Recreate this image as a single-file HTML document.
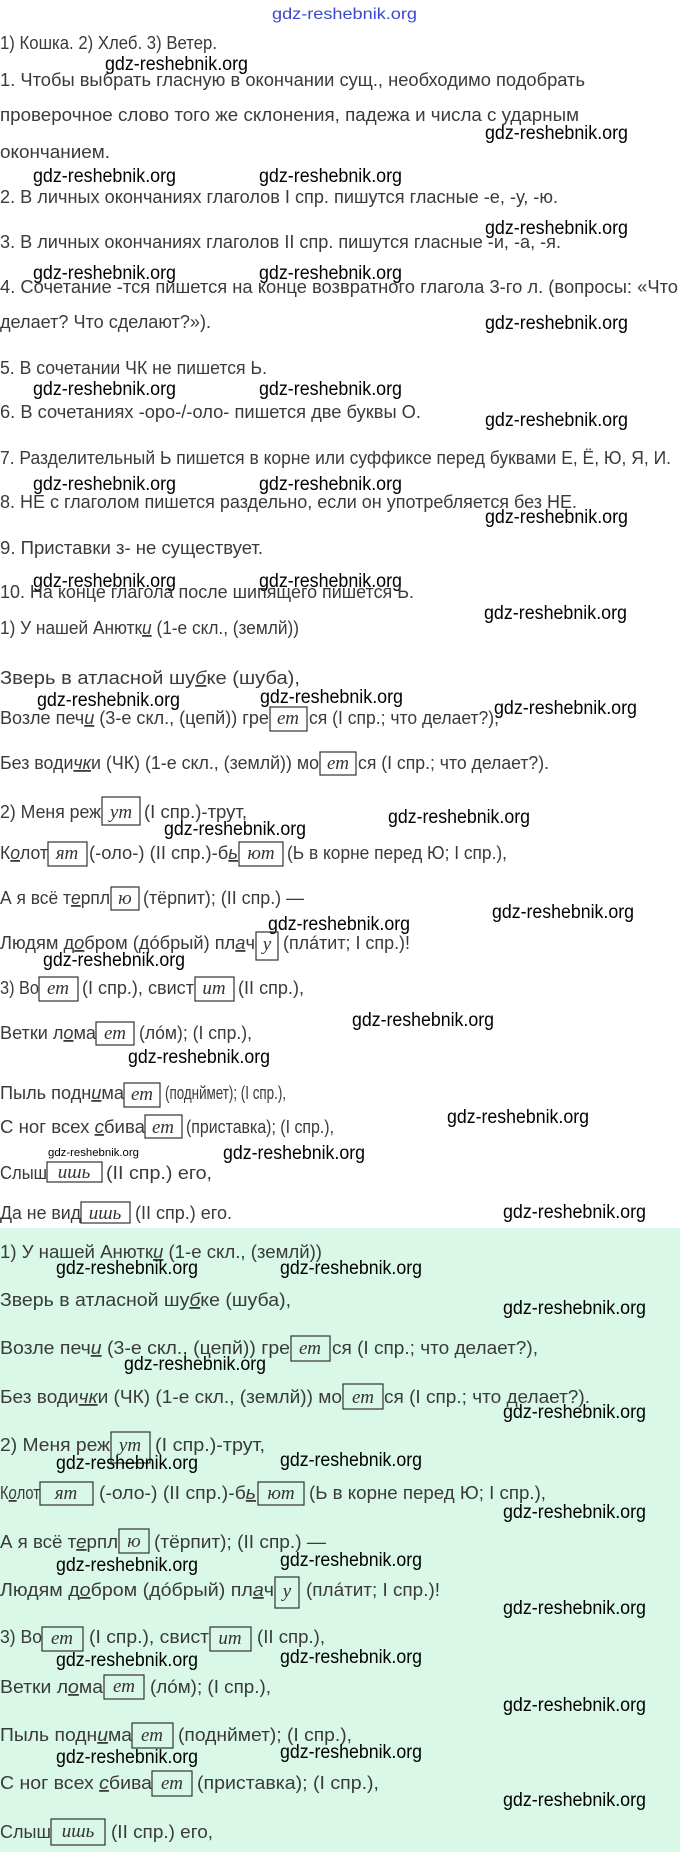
<!DOCTYPE html>
<html><head><meta charset="utf-8"><style>
html,body{margin:0;padding:0;background:#fff}
svg{display:block}
.t{font-family:"Liberation Sans",sans-serif;font-size:18px;fill:#3a3a3a}
.w{font-family:"Liberation Sans",sans-serif;font-size:19px;fill:#000}
.s{font-family:"Liberation Sans",sans-serif;font-size:11px;fill:#000}
.b{font-family:"Liberation Serif",serif;font-style:italic;font-size:19px;fill:#333;text-anchor:middle}
.u{font-style:italic;text-decoration:underline}
rect.x{fill:none;stroke:#333;stroke-width:1.2}
</style></head><body>
<svg width="680" height="1852" viewBox="0 0 680 1852" xmlns="http://www.w3.org/2000/svg">
<rect x="0" y="1228" width="680" height="624" fill="#d9f8e8"/>
<g lengthAdjust="spacingAndGlyphs">
<text x="272" y="19" style="font-family:'Liberation Sans',sans-serif;font-size:16px;fill:#3a48d0" textLength="145" lengthAdjust="spacingAndGlyphs">gdz-reshebnik.org</text>

<text class="t" x="0" y="49" textLength="217" lengthAdjust="spacingAndGlyphs">1) Кошка. 2) Хлеб. 3) Ветер.</text>
<text class="w" x="105" y="70" textLength="143" lengthAdjust="spacingAndGlyphs">gdz-reshebnik.org</text>
<text class="t" x="0" y="86" textLength="585" lengthAdjust="spacingAndGlyphs">1. Чтобы выбрать гласную в окончании сущ., необходимо подобрать</text>
<text class="t" x="0" y="121" textLength="579" lengthAdjust="spacingAndGlyphs">проверочное слово того же склонения, падежа и числа с ударным</text>
<text class="w" x="485" y="139" textLength="143" lengthAdjust="spacingAndGlyphs">gdz-reshebnik.org</text>
<text class="t" x="0" y="158" textLength="110" lengthAdjust="spacingAndGlyphs">окончанием.</text>
<text class="w" x="33" y="182" textLength="143" lengthAdjust="spacingAndGlyphs">gdz-reshebnik.org</text>
<text class="w" x="259" y="182" textLength="143" lengthAdjust="spacingAndGlyphs">gdz-reshebnik.org</text>
<text class="t" x="0" y="203" textLength="558" lengthAdjust="spacingAndGlyphs">2. В личных окончаниях глаголов I спр. пишутся гласные -е, -у, -ю.</text>
<text class="w" x="485" y="234" textLength="143" lengthAdjust="spacingAndGlyphs">gdz-reshebnik.org</text>
<text class="t" x="0" y="248" textLength="561" lengthAdjust="spacingAndGlyphs">3. В личных окончаниях глаголов II спр. пишутся гласные -и, -а, -я.</text>
<text class="w" x="33" y="279" textLength="143" lengthAdjust="spacingAndGlyphs">gdz-reshebnik.org</text>
<text class="w" x="259" y="279" textLength="143" lengthAdjust="spacingAndGlyphs">gdz-reshebnik.org</text>
<text class="t" x="0" y="293" textLength="678" lengthAdjust="spacingAndGlyphs">4. Сочетание -тся пишется на конце возвратного глагола 3-го л. (вопросы: «Что</text>
<text class="t" x="0" y="328" textLength="211" lengthAdjust="spacingAndGlyphs">делает? Что сделают?»).</text>
<text class="w" x="485" y="329" textLength="143" lengthAdjust="spacingAndGlyphs">gdz-reshebnik.org</text>
<text class="t" x="0" y="374" textLength="267" lengthAdjust="spacingAndGlyphs">5. В сочетании ЧК не пишется Ь.</text>
<text class="w" x="33" y="395" textLength="143" lengthAdjust="spacingAndGlyphs">gdz-reshebnik.org</text>
<text class="w" x="259" y="395" textLength="143" lengthAdjust="spacingAndGlyphs">gdz-reshebnik.org</text>
<text class="t" x="0" y="418" textLength="421" lengthAdjust="spacingAndGlyphs">6. В сочетаниях -оро-/-оло- пишется две буквы О.</text>
<text class="w" x="485" y="426" textLength="143" lengthAdjust="spacingAndGlyphs">gdz-reshebnik.org</text>
<text class="t" x="0" y="464" textLength="671" lengthAdjust="spacingAndGlyphs">7. Разделительный Ь пишется в корне или суффиксе перед буквами Е, Ё, Ю, Я, И.</text>
<text class="w" x="33" y="490" textLength="143" lengthAdjust="spacingAndGlyphs">gdz-reshebnik.org</text>
<text class="w" x="259" y="490" textLength="143" lengthAdjust="spacingAndGlyphs">gdz-reshebnik.org</text>
<text class="t" x="0" y="508" textLength="577" lengthAdjust="spacingAndGlyphs">8. НЕ с глаголом пишется раздельно, если он употребляется без НЕ.</text>
<text class="w" x="485" y="523" textLength="143" lengthAdjust="spacingAndGlyphs">gdz-reshebnik.org</text>
<text class="t" x="0" y="554" textLength="263" lengthAdjust="spacingAndGlyphs">9. Приставки з- не существует.</text>
<text class="w" x="33" y="587" textLength="143" lengthAdjust="spacingAndGlyphs">gdz-reshebnik.org</text>
<text class="w" x="259" y="587" textLength="143" lengthAdjust="spacingAndGlyphs">gdz-reshebnik.org</text>
<text class="t" x="0" y="598" textLength="414" lengthAdjust="spacingAndGlyphs">10. На конце глагола после шипящего пишется Ь.</text>

<text class="w" x="484" y="619" textLength="143" lengthAdjust="spacingAndGlyphs">gdz-reshebnik.org</text>
<text class="t" x="0" y="634" textLength="299" lengthAdjust="spacingAndGlyphs">1) У нашей Анютк<tspan class="u">и</tspan> (1-е скл., (землй))</text>
<text class="t" x="0" y="684" textLength="300" lengthAdjust="spacingAndGlyphs">Зверь в атласной шу<tspan class="u">б</tspan>ке (шуба),</text>
<text class="w" x="37" y="706" textLength="143" lengthAdjust="spacingAndGlyphs">gdz-reshebnik.org</text>
<text class="w" x="260" y="703" textLength="143" lengthAdjust="spacingAndGlyphs">gdz-reshebnik.org</text>
<text class="w" x="494" y="714" textLength="143" lengthAdjust="spacingAndGlyphs">gdz-reshebnik.org</text>
<text class="t" x="0" y="724" textLength="269" lengthAdjust="spacingAndGlyphs">Возле печ<tspan class="u">и</tspan> (3-е скл., (цепй)) гре</text>
<rect class="x" x="270" y="707" width="37" height="24"/><text class="b" x="288" y="724">ет</text>
<text class="t" x="309" y="724" textLength="190" lengthAdjust="spacingAndGlyphs">ся (I спр.; что делает?),</text>
<text class="t" x="0" y="769" textLength="319" lengthAdjust="spacingAndGlyphs">Без води<tspan class="u">чк</tspan>и (ЧК) (1-е скл., (землй)) мо</text>
<rect class="x" x="320" y="752" width="36" height="23"/><text class="b" x="338" y="769">ет</text>
<text class="t" x="358" y="769" textLength="191" lengthAdjust="spacingAndGlyphs">ся (I спр.; что делает?).</text>

<text class="t" x="0" y="818" textLength="101" lengthAdjust="spacingAndGlyphs">2) Меня реж</text>
<rect class="x" x="102" y="797" width="38" height="28"/><text class="b" x="121" y="818">ут</text>
<text class="t" x="144" y="818" textLength="103" lengthAdjust="spacingAndGlyphs">(I спр.)-трут,</text>
<text class="w" x="388" y="823" textLength="142" lengthAdjust="spacingAndGlyphs">gdz-reshebnik.org</text>
<text class="w" x="164" y="835" textLength="142" lengthAdjust="spacingAndGlyphs">gdz-reshebnik.org</text>
<text class="t" x="0" y="859" textLength="48" lengthAdjust="spacingAndGlyphs">К<tspan class="u">о</tspan>лот</text>
<rect class="x" x="48" y="842" width="39" height="24"/><text class="b" x="67" y="859">ят</text>
<text class="t" x="89" y="859" textLength="149" lengthAdjust="spacingAndGlyphs">(-оло-) (II спр.)-б<tspan class="u">ь</tspan></text>
<rect class="x" x="239" y="842" width="44" height="24"/><text class="b" x="261" y="859">ют</text>
<text class="t" x="287" y="859" textLength="220" lengthAdjust="spacingAndGlyphs">(Ь в корне перед Ю; I спр.),</text>
<text class="t" x="0" y="904" textLength="110" lengthAdjust="spacingAndGlyphs">А я всё т<tspan class="u">е</tspan>рпл</text>
<rect class="x" x="111" y="887" width="28" height="23"/><text class="b" x="125" y="904">ю</text>
<text class="t" x="143" y="904" textLength="161" lengthAdjust="spacingAndGlyphs">(тёрпит); (II спр.) —</text>
<text class="w" x="492" y="918" textLength="142" lengthAdjust="spacingAndGlyphs">gdz-reshebnik.org</text>
<text class="w" x="268" y="930" textLength="142" lengthAdjust="spacingAndGlyphs">gdz-reshebnik.org</text>
<text class="t" x="0" y="949" textLength="255" lengthAdjust="spacingAndGlyphs">Людям д<tspan class="u">о</tspan>бром (дóбрый) пл<tspan class="u">а</tspan>ч</text>
<rect class="x" x="256" y="932" width="22" height="28"/><text class="b" x="267" y="950">у</text>
<text class="t" x="283" y="949" textLength="127" lengthAdjust="spacingAndGlyphs">(плáтит; I спр.)!</text>
<text class="w" x="43" y="966" textLength="142" lengthAdjust="spacingAndGlyphs">gdz-reshebnik.org</text>
<text class="t" x="0" y="994" textLength="39" lengthAdjust="spacingAndGlyphs">3) Во</text>
<rect class="x" x="39" y="977" width="39" height="24"/><text class="b" x="58" y="994">ет</text>
<text class="t" x="82" y="994" textLength="112" lengthAdjust="spacingAndGlyphs">(I спр.), свист</text>
<rect class="x" x="195" y="977" width="39" height="24"/><text class="b" x="214" y="994">ит</text>
<text class="t" x="238" y="994" textLength="66" lengthAdjust="spacingAndGlyphs">(II спр.),</text>
<text class="w" x="352" y="1026" textLength="142" lengthAdjust="spacingAndGlyphs">gdz-reshebnik.org</text>
<text class="t" x="0" y="1039" textLength="96" lengthAdjust="spacingAndGlyphs">Ветки л<tspan class="u">о</tspan>ма</text>
<rect class="x" x="96" y="1022" width="38" height="23"/><text class="b" x="115" y="1039">ет</text>
<text class="t" x="139" y="1039" textLength="113" lengthAdjust="spacingAndGlyphs">(лóм); (I спр.),</text>
<text class="w" x="128" y="1063" textLength="142" lengthAdjust="spacingAndGlyphs">gdz-reshebnik.org</text>
<text class="t" x="0" y="1099" textLength="124" lengthAdjust="spacingAndGlyphs">Пыль подн<tspan class="u">и</tspan>ма</text>
<rect class="x" x="124" y="1083" width="36" height="24"/><text class="b" x="142" y="1100">ет</text>
<text class="t" x="165" y="1099" textLength="121" lengthAdjust="spacingAndGlyphs">(поднймет); (I спр.),</text>
<text class="w" x="447" y="1123" textLength="142" lengthAdjust="spacingAndGlyphs">gdz-reshebnik.org</text>
<text class="t" x="0" y="1133" textLength="145" lengthAdjust="spacingAndGlyphs">С ног всех <tspan class="u">с</tspan>бива</text>
<rect class="x" x="145" y="1115" width="37" height="23"/><text class="b" x="163" y="1133">ет</text>
<text class="t" x="186" y="1133" textLength="148" lengthAdjust="spacingAndGlyphs">(приставка); (I спр.),</text>
<text class="s" x="48" y="1156" textLength="91" lengthAdjust="spacingAndGlyphs">gdz-reshebnik.org</text>
<text class="w" x="223" y="1159" textLength="142" lengthAdjust="spacingAndGlyphs">gdz-reshebnik.org</text>
<text class="t" x="0" y="1179" textLength="47" lengthAdjust="spacingAndGlyphs">Слыш</text>
<rect class="x" x="47" y="1162" width="55" height="20"/><text class="b" x="74" y="1178">ишь</text>
<text class="t" x="106" y="1179" textLength="106" lengthAdjust="spacingAndGlyphs">(II спр.) его,</text>
<text class="t" x="0" y="1219" textLength="81" lengthAdjust="spacingAndGlyphs">Да не вид</text>
<rect class="x" x="81" y="1202" width="49" height="21"/><text class="b" x="105" y="1219">ишь</text>
<text class="t" x="135" y="1219" textLength="97" lengthAdjust="spacingAndGlyphs">(II спр.) его.</text>
<text class="w" x="503" y="1218" textLength="143" lengthAdjust="spacingAndGlyphs">gdz-reshebnik.org</text>

<!-- green section -->
<text class="t" x="0" y="1258" textLength="322" lengthAdjust="spacingAndGlyphs">1) У нашей Анютк<tspan class="u">и</tspan> (1-е скл., (землй))</text>
<text class="w" x="56" y="1274" textLength="142" lengthAdjust="spacingAndGlyphs">gdz-reshebnik.org</text>
<text class="w" x="280" y="1274" textLength="142" lengthAdjust="spacingAndGlyphs">gdz-reshebnik.org</text>
<text class="t" x="0" y="1306" textLength="291" lengthAdjust="spacingAndGlyphs">Зверь в атласной шу<tspan class="u">б</tspan>ке (шуба),</text>
<text class="w" x="503" y="1314" textLength="143" lengthAdjust="spacingAndGlyphs">gdz-reshebnik.org</text>
<text class="t" x="0" y="1354" textLength="290" lengthAdjust="spacingAndGlyphs">Возле печ<tspan class="u">и</tspan> (3-е скл., (цепй)) гре</text>
<rect class="x" x="291" y="1336" width="39" height="25"/><text class="b" x="310" y="1354">ет</text>
<text class="t" x="332" y="1354" textLength="206" lengthAdjust="spacingAndGlyphs">ся (I спр.; что делает?),</text>
<text class="w" x="124" y="1370" textLength="142" lengthAdjust="spacingAndGlyphs">gdz-reshebnik.org</text>
<text class="t" x="0" y="1403" textLength="342" lengthAdjust="spacingAndGlyphs">Без води<tspan class="u">чк</tspan>и (ЧК) (1-е скл., (землй)) мо</text>
<rect class="x" x="343" y="1384" width="40" height="25"/><text class="b" x="363" y="1403">ет</text>
<text class="t" x="384" y="1403" textLength="206" lengthAdjust="spacingAndGlyphs">ся (I спр.; что делает?).</text>
<text class="w" x="503" y="1418" textLength="143" lengthAdjust="spacingAndGlyphs">gdz-reshebnik.org</text>
<text class="t" x="0" y="1451" textLength="110" lengthAdjust="spacingAndGlyphs">2) Меня реж</text>
<rect class="x" x="111" y="1432" width="39" height="31"/><text class="b" x="130" y="1451">ут</text>
<text class="t" x="155" y="1451" textLength="110" lengthAdjust="spacingAndGlyphs">(I спр.)-трут,</text>
<text class="w" x="56" y="1469" textLength="142" lengthAdjust="spacingAndGlyphs">gdz-reshebnik.org</text>
<text class="w" x="280" y="1466" textLength="142" lengthAdjust="spacingAndGlyphs">gdz-reshebnik.org</text>
<text class="t" x="0" y="1499" textLength="40" lengthAdjust="spacingAndGlyphs">К<tspan class="u">о</tspan>лот</text>
<rect class="x" x="40" y="1482" width="53" height="23"/><text class="b" x="66" y="1499">ят</text>
<text class="t" x="99" y="1499" textLength="157" lengthAdjust="spacingAndGlyphs">(-оло-) (II спр.)-б<tspan class="u">ь</tspan></text>
<rect class="x" x="258" y="1482" width="46" height="23"/><text class="b" x="281" y="1499">ют</text>
<text class="t" x="309" y="1499" textLength="237" lengthAdjust="spacingAndGlyphs">(Ь в корне перед Ю; I спр.),</text>
<text class="w" x="503" y="1518" textLength="143" lengthAdjust="spacingAndGlyphs">gdz-reshebnik.org</text>
<text class="t" x="0" y="1548" textLength="118" lengthAdjust="spacingAndGlyphs">А я всё т<tspan class="u">е</tspan>рпл</text>
<rect class="x" x="119" y="1529" width="30" height="24"/><text class="b" x="134" y="1547">ю</text>
<text class="t" x="154" y="1548" textLength="172" lengthAdjust="spacingAndGlyphs">(тёрпит); (II спр.) —</text>
<text class="w" x="56" y="1571" textLength="142" lengthAdjust="spacingAndGlyphs">gdz-reshebnik.org</text>
<text class="w" x="280" y="1566" textLength="142" lengthAdjust="spacingAndGlyphs">gdz-reshebnik.org</text>
<text class="t" x="0" y="1596" textLength="274" lengthAdjust="spacingAndGlyphs">Людям д<tspan class="u">о</tspan>бром (дóбрый) пл<tspan class="u">а</tspan>ч</text>
<rect class="x" x="275" y="1577" width="24" height="31"/><text class="b" x="287" y="1597">у</text>
<text class="t" x="306" y="1596" textLength="134" lengthAdjust="spacingAndGlyphs">(плáтит; I спр.)!</text>
<text class="w" x="503" y="1614" textLength="143" lengthAdjust="spacingAndGlyphs">gdz-reshebnik.org</text>
<text class="t" x="0" y="1643" textLength="42" lengthAdjust="spacingAndGlyphs">3) Во</text>
<rect class="x" x="42" y="1627" width="41" height="24"/><text class="b" x="62" y="1644">ет</text>
<text class="t" x="89" y="1643" textLength="120" lengthAdjust="spacingAndGlyphs">(I спр.), свист</text>
<rect class="x" x="210" y="1627" width="41" height="24"/><text class="b" x="230" y="1644">ит</text>
<text class="t" x="257" y="1643" textLength="68" lengthAdjust="spacingAndGlyphs">(II спр.),</text>
<text class="w" x="56" y="1666" textLength="142" lengthAdjust="spacingAndGlyphs">gdz-reshebnik.org</text>
<text class="w" x="280" y="1663" textLength="142" lengthAdjust="spacingAndGlyphs">gdz-reshebnik.org</text>
<text class="t" x="0" y="1693" textLength="103" lengthAdjust="spacingAndGlyphs">Ветки л<tspan class="u">о</tspan>ма</text>
<rect class="x" x="104" y="1675" width="40" height="24"/><text class="b" x="124" y="1692">ет</text>
<text class="t" x="150" y="1693" textLength="121" lengthAdjust="spacingAndGlyphs">(лóм); (I спр.),</text>
<text class="w" x="503" y="1711" textLength="143" lengthAdjust="spacingAndGlyphs">gdz-reshebnik.org</text>
<text class="t" x="0" y="1741" textLength="132" lengthAdjust="spacingAndGlyphs">Пыль подн<tspan class="u">и</tspan>ма</text>
<rect class="x" x="132" y="1723" width="41" height="25"/><text class="b" x="152" y="1741">ет</text>
<text class="t" x="178" y="1741" textLength="174" lengthAdjust="spacingAndGlyphs">(поднймет); (I спр.),</text>
<text class="w" x="56" y="1763" textLength="142" lengthAdjust="spacingAndGlyphs">gdz-reshebnik.org</text>
<text class="w" x="280" y="1758" textLength="142" lengthAdjust="spacingAndGlyphs">gdz-reshebnik.org</text>
<text class="t" x="0" y="1789" textLength="152" lengthAdjust="spacingAndGlyphs">С ног всех <tspan class="u">с</tspan>бива</text>
<rect class="x" x="152" y="1771" width="40" height="25"/><text class="b" x="172" y="1789">ет</text>
<text class="t" x="197" y="1789" textLength="182" lengthAdjust="spacingAndGlyphs">(приставка); (I спр.),</text>
<text class="w" x="503" y="1806" textLength="143" lengthAdjust="spacingAndGlyphs">gdz-reshebnik.org</text>
<text class="t" x="0" y="1838" textLength="51" lengthAdjust="spacingAndGlyphs">Слыш</text>
<rect class="x" x="51" y="1819" width="54" height="26"/><text class="b" x="78" y="1837">ишь</text>
<text class="t" x="111" y="1838" textLength="102" lengthAdjust="spacingAndGlyphs">(II спр.) его,</text>
</g>
</svg>
</body></html>
